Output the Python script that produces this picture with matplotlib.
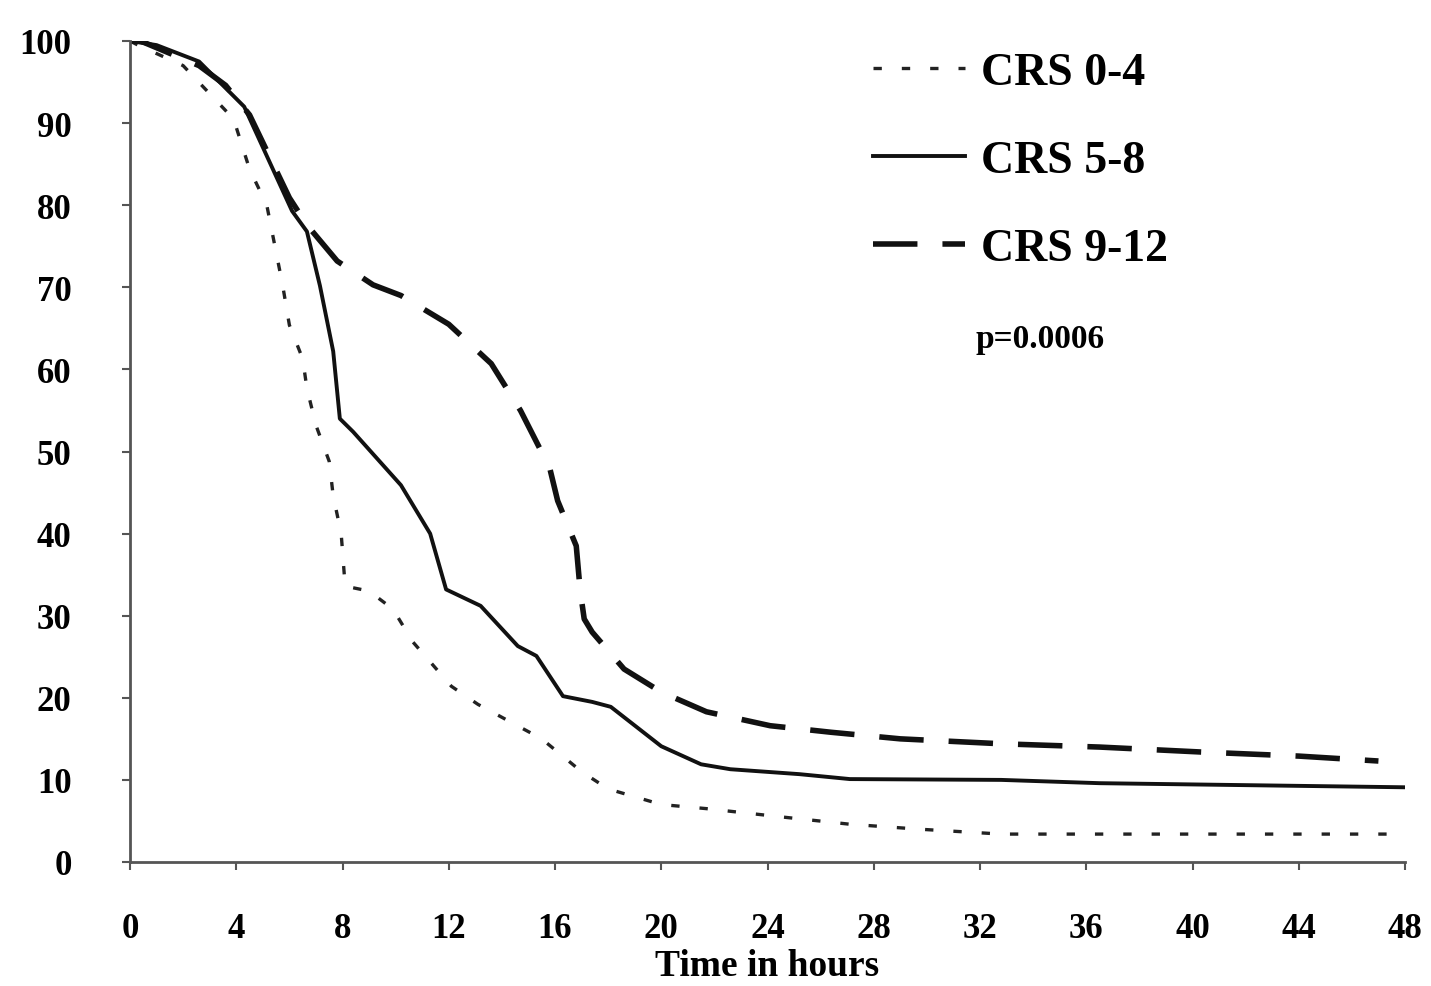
import matplotlib
matplotlib.use("Agg")
import matplotlib.pyplot as plt

# ---- data ----
t_low = [0, 0.3, 2.0, 3.9, 4.5, 5.15, 5.75, 6.0, 6.5, 6.66, 7.0, 7.5, 7.65, 7.95, 8.1,
         9.0, 9.9, 10.65, 12.1, 13.1, 15.5, 17.0, 18.0, 20.0, 21.7, 24.5, 27.1, 29.7, 32.8, 48]
s_low = [100, 99.5, 97, 90.5, 84.4, 80, 70.2, 65.4, 61.3, 57.7, 53.2, 48.8, 44.6, 40, 33.6,
         33, 30.8, 26.8, 21.4, 19.2, 15, 11, 8.9, 7, 6.5, 5.5, 4.6, 4, 3.4, 3.4]

t_mid = [0, 1.0, 2.6, 4.3, 6.1, 6.66, 7.15, 7.65, 7.9, 8.4, 10.2, 11.3, 11.9, 13.2, 14.6,
         15.3, 16.3, 17.4, 18.1, 20.0, 21.5, 22.6, 25.2, 27.1, 32.8, 36.5, 48]
s_mid = [100, 99.5, 97.5, 92, 79.3, 76.8, 70.2, 62.2, 54, 52.4, 45.9, 40, 33.2, 31.2, 26.3,
         25.1, 20.2, 19.5, 18.9, 14.1, 11.9, 11.3, 10.7, 10.1, 10, 9.6, 9.1]

t_high = [0, 0.4, 2.6, 3.6, 4.5, 6.0, 6.66, 7.8, 9.15, 10.2, 12.0, 13.6, 14.7, 15.8, 16.1,
          16.8, 16.95, 17.1, 17.4, 18.6, 20.0, 21.7, 24.1, 26.4, 29.0, 32.8, 36.5, 40.3, 44.0, 47.0]
s_high = [100, 100, 97, 94.6, 91, 80.9, 77.6, 73.2, 70.3, 69, 65.5, 60.7, 55, 48, 44,
          38.5, 33, 29.6, 28, 23.5, 20.7, 18.3, 16.6, 15.8, 15, 14.4, 14, 13.4, 12.9, 12.3]

labels = ["CRS 0-4", "CRS 5-8", "CRS 9-12"]
p_text = "p=0.0006"
x_ticks = list(range(0, 49, 4))
y_ticks = list(range(0, 101, 10))
x_label = "Time in hours"

# ---- figure ----
plt.rcParams['font.family'] = ['Liberation Serif', 'DejaVu Serif']
fig = plt.figure(figsize=(14.31, 9.87), dpi=100)
ax = fig.add_axes([130/1431, 1 - 863/987, (1405-130)/1431, (863-42)/987])

l1, = ax.plot(t_low, s_low, color='#222222', lw=2.4, linestyle=(0, (2.5, 6)))
l2, = ax.plot(t_mid, s_mid, color='#111111', lw=2.8, linestyle='-')
l3, = ax.plot(t_high, s_high, color='#111111', lw=4.0, linestyle=(0, (8, 4.5)))

ax.set_xlim(0, 48)
ax.set_ylim(0, 100)
ax.set_xticks(x_ticks)
ax.set_yticks(y_ticks)
ax.tick_params(axis='both', direction='out', length=6, width=1.5, color='#555555',
               labelsize=25)
for lab in ax.get_xticklabels() + ax.get_yticklabels():
    lab.set_fontweight('bold')
ax.tick_params(axis='x', pad=30)
ax.tick_params(axis='y', pad=36)

for side in ['top', 'right']:
    ax.spines[side].set_visible(False)
for side in ['left', 'bottom']:
    ax.spines[side].set_color('#555555')
    ax.spines[side].set_linewidth(2)

ax.set_xlabel(x_label, fontsize=27, fontweight='bold', labelpad=2)

leg = fig.legend([l1, l2, l3], labels, loc='upper left',
                 bbox_to_anchor=(832/1431, 1 - 12/987), frameon=False,
                 prop={'size': 33, 'weight': 'bold'},
                 handlelength=2.0, handletextpad=0.35, labelspacing=1.0)
fig.text(975/1431, 1 - 340/987, p_text, fontsize=24, fontweight='bold',
         va='center', ha='left')

fig.savefig("out.png", dpi=100)
